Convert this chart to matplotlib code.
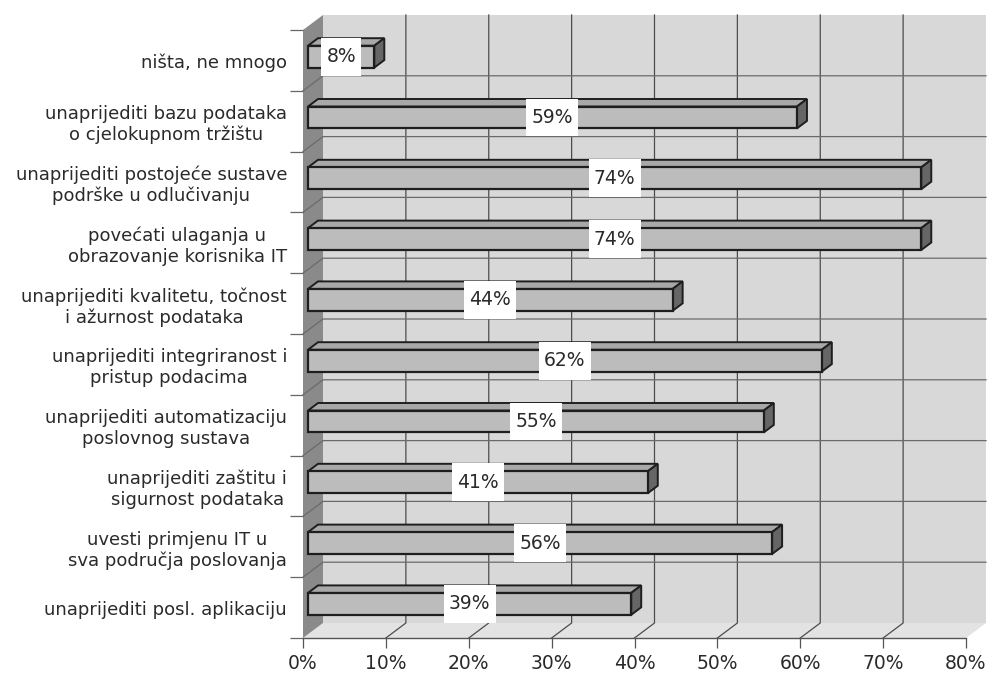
import numpy as np
import matplotlib
matplotlib.use("Agg")
import matplotlib.pyplot as plt
from matplotlib.patches import Polygon
from matplotlib.lines import Line2D
from matplotlib.path import Path
from matplotlib.transforms import IdentityTransform, offset_copy

# Categories listed top to bottom, with their shares in percent
categories = [
    "ništa, ne mnogo",
    "unaprijediti bazu podataka\no cjelokupnom tržištu",
    "unaprijediti postojeće sustave\npodrške u odlučivanju",
    "povećati ulaganja u\nobrazovanje korisnika IT",
    "unaprijediti kvalitetu, točnost\ni ažurnost podataka",
    "unaprijediti integriranost i\npristup podacima",
    "unaprijediti automatizaciju\nposlovnog sustava",
    "unaprijediti zaštitu i\nsigurnost podataka",
    "uvesti primjenu IT u\nsva područja poslovanja",
    "unaprijediti posl. aplikaciju",
]
values = [8, 59, 74, 74, 44, 62, 55, 41, 56, 39]
x_ticks = [0, 10, 20, 30, 40, 50, 60, 70, 80]
x_tick_labels = [f"{t}%" for t in x_ticks]

W, H = 989, 677
fig = plt.figure(figsize=(W / 100, H / 100), dpi=100)
fig.patch.set_facecolor("white")
ax = fig.add_axes([303 / W, 39 / H, 663 / W, 608 / H])
n = len(categories)
ax.set_xlim(0, 80)
ax.set_ylim(-0.5, n - 0.5)
ax.set_facecolor("none")

# oblique depth of the 3D box, in pixels
DEPTH = np.array([20.0, 15.0])


def P(x, y, f):
    """Display position of data point (x, y) pushed back by fraction f of the depth."""
    return ax.transData.transform((x, y)) + f * DEPTH


def poly(pts, fc, ec="none", lw=0.0, z=1):
    ax.add_patch(Polygon(np.array(pts), closed=True, facecolor=fc, edgecolor=ec,
                         linewidth=lw, transform=IdentityTransform(), zorder=z,
                         clip_on=False, joinstyle="miter"))


def line(pts, color, lw, z=2):
    pts = np.array(pts)
    ax.add_line(Line2D(pts[:, 0], pts[:, 1], color=color, linewidth=lw,
                       transform=IdentityTransform(), zorder=z, clip_on=False))


def label_box(x0, y0, width, height, mutation_size):
    """Rectangular label box, padded more vertically than horizontally."""
    px, py = 0.28 * mutation_size, 0.5 * mutation_size
    x0, y0 = x0 - px, y0 - py
    x1, y1 = x0 + width + 2 * px, y0 + height + 2 * py
    return Path([(x0, y0), (x1, y0), (x1, y1), (x0, y1), (x0, y0)], closed=True)


ymin, ymax = -0.5, n - 0.5
xmax = 80

# walls and floor
poly([P(0, ymin, 1), P(xmax, ymin, 1), P(xmax, ymax, 1), P(0, ymax, 1)], "#d8d8d8", z=0.5)
poly([P(0, ymin, 0), P(xmax, ymin, 0), P(xmax, ymin, 1), P(0, ymin, 1)], "#e3e3e3", z=0.5)
poly([P(0, ymin, 0), P(0, ymax, 0), P(0, ymax, 1), P(0, ymin, 1)], "#8a8a8a", z=0.6)

# value gridlines: along the floor and up the back wall
for t in x_ticks[1:-1]:
    line([P(t, ymin, 0), P(t, ymin, 1), P(t, ymax, 1)], "#4d4d4d", 0.9, z=1)

# category separators: across the left wall and the back wall
for k in range(n - 1):
    yb = k + 0.5
    line([P(0, yb, 0), P(0, yb, 1), P(xmax, yb, 1)], "#6a6a6a", 0.9, z=1)

# 3D bars, sitting in the middle of the depth
h = 0.18
f0, f1 = 0.25, 0.75
for i, v in enumerate(values):
    y = n - 1 - i
    poly([P(0, y + h, f0), P(v, y + h, f0), P(v, y + h, f1), P(0, y + h, f1)],
         "#a8a8a8", "#1e1e1e", 1.4, z=3)
    poly([P(v, y - h, f0), P(v, y + h, f0), P(v, y + h, f1), P(v, y - h, f1)],
         "#666666", "#1e1e1e", 1.4, z=3)
    poly([P(0, y - h, f0), P(v, y - h, f0), P(v, y + h, f0), P(0, y + h, f0)],
         "#bcbcbc", "#1e1e1e", 1.6, z=4)

# value labels on white boxes, centred on the bar front
label_tr = offset_copy(ax.transData, fig=fig, x=f0 * DEPTH[0], y=f0 * DEPTH[1], units="dots")
for i, v in enumerate(values):
    y = n - 1 - i
    ax.text(v / 2, y, f"{v}%", transform=label_tr, ha="center", va="center",
            fontsize=13.5, color="#2a2a2a", zorder=6,
            bbox=dict(boxstyle=label_box, facecolor="white", edgecolor="none"))

# axes: category labels on the left, percent scale along the floor
for s in ["top", "right", "left"]:
    ax.spines[s].set_visible(False)
ax.spines["bottom"].set_color("#555555")
ax.spines["bottom"].set_linewidth(1.0)
ax.spines["bottom"].set_zorder(5)

ax.set_xticks(x_ticks)
ax.set_xticklabels(x_tick_labels, fontsize=13.5, color="#2a2a2a")
ax.tick_params(axis="x", direction="out", length=7.5, width=0.9, color="#555555", pad=4)

ax.set_yticks(range(n))
ax.set_yticklabels(categories[::-1], fontsize=13, color="#2a2a2a")
for lbl in ax.get_yticklabels():
    lbl.set_multialignment("center")
ax.tick_params(axis="y", which="major", length=0, pad=11.5)
ax.set_yticks(np.arange(-0.5, n, 1.0), minor=True)
ax.tick_params(axis="y", which="minor", direction="out", length=9.5, width=0.9, color="#666666")

fig.savefig("out.png", dpi=100)
